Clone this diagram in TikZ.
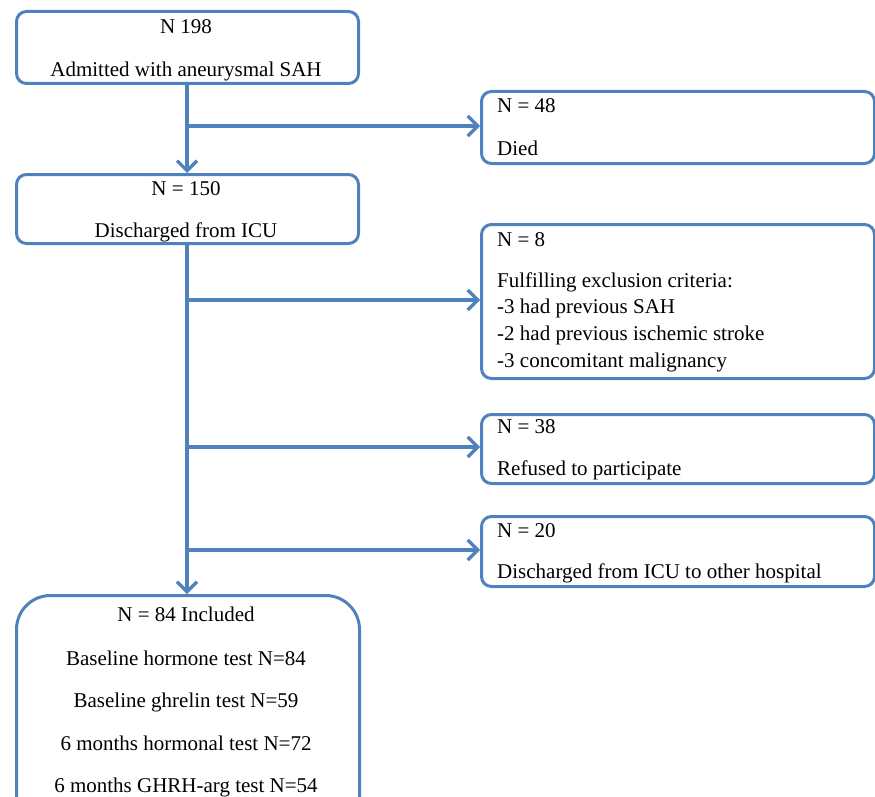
\documentclass[tikz,border=0pt]{standalone}
\usepackage{fontspec}
\setmainfont{Liberation Serif}
\usetikzlibrary{arrows.meta}
\definecolor{boxblue}{RGB}{79,129,189}
\tikzset{
  x=1pt,y=-1pt,
  box/.style={draw=boxblue,line width=3pt,rounded corners=10pt,anchor=north west,inner sep=0pt},
  bigbox/.style={box,rounded corners=34pt},
  ctxt/.style={anchor=base,inner sep=0pt,font=\fontsize{21}{25}\selectfont},
  ltxt/.style={anchor=base west,inner sep=0pt,font=\fontsize{21}{25}\selectfont},
  arr/.style={draw=boxblue,line width=3.6pt,-{Straight Barb[length=10pt,width=20pt,line width=3.2pt]}},
}
\begin{document}
\begin{tikzpicture}
\useasboundingbox (0,0) rectangle (875,797);
\clip (0,0) rectangle (875,797);
% left column
\node[box,minimum width=342pt,minimum height=72pt] (b1) at (15,10) {};
\node[ctxt] (t1a) at (186,34) {N 198};
\node[ctxt] (t1b) at (186,77) {Admitted with aneurysmal SAH};
\node[box,minimum width=342pt,minimum height=69pt] (b2) at (15,173) {};
\node[ctxt] (t2a) at (186,195) {N = 150};
\node[ctxt] (t2b) at (186,237) {Discharged from ICU};
\node[bigbox,minimum width=343pt,minimum height=240pt] (b3) at (15,594) {};
\node[ctxt] (t3a) at (186,621) {N = 84 Included};
\node[ctxt] (t3b) at (186,665) {Baseline hormone test N=84};
\node[ctxt] (t3c) at (186,707) {Baseline ghrelin test N=59};
\node[ctxt] (t3d) at (186,750) {6 months hormonal test N=72};
\node[ctxt] (t3e) at (186,792) {6 months GHRH-arg test N=54};
% right column
\node[box,minimum width=393pt,minimum height=72pt] (r1) at (480,90) {};
\node[ltxt] (r1a) at (497,113) {N = 48};
\node[ltxt] (r1b) at (497,155) {Died};
\node[box,minimum width=393pt,minimum height=154pt] (r2) at (480,223) {};
\node[ltxt] (r2a) at (497,246) {N = 8};
\node[ltxt] (r2b) at (497,287) {Fulfilling exclusion criteria:};
\node[ltxt] (r2c) at (497,313) {-3 had previous SAH};
\node[ltxt] (r2d) at (497,340) {-2 had previous ischemic stroke};
\node[ltxt] (r2e) at (497,367) {-3 concomitant malignancy};
\node[box,minimum width=393pt,minimum height=69pt] (r3) at (480,413) {};
\node[ltxt] (r3a) at (497,433) {N = 38};
\node[ltxt] (r3b) at (497,475) {Refused to participate};
\node[box,minimum width=393pt,minimum height=70pt] (r4) at (480,515) {};
\node[ltxt] (r4a) at (497,537) {N = 20};
\node[ltxt] (r4b) at (497,578) {Discharged from ICU to other hospital};
% connectors
\coordinate (j1) at (187,126);
\coordinate (j2) at (187,300);
\coordinate (j3) at (187,447);
\coordinate (j4) at (187,550);
\draw[arr] (b1.south -| j1) -- (b2.north -| j1);
\draw[arr] (b2.south -| j1) -- (b3.north -| j1);
\draw[arr] (j1) -- (r1.west |- j1);
\draw[arr] (j2) -- (r2.west |- j2);
\draw[arr] (j3) -- (r3.west |- j3);
\draw[arr] (j4) -- (r4.west |- j4);
\end{tikzpicture}
\end{document}
